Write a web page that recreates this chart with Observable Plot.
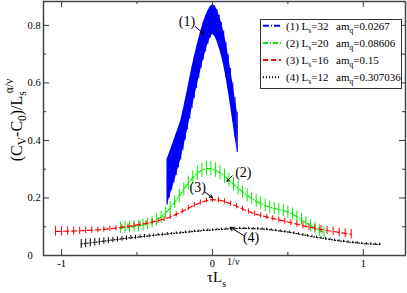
<!DOCTYPE html>
<html>
<head>
<meta charset="utf-8">
<script src="https://cdn.jsdelivr.net/npm/d3@7"></script>
<script src="https://cdn.jsdelivr.net/npm/@observablehq/plot@0.6"></script>
<style>
  html, body { margin: 0; padding: 0; background: #fff; }
  svg { display: block; }
  svg text { font-family: "Liberation Serif", "Times New Roman", Times, "DejaVu Serif", serif; }
</style>
</head>
<body>
<div id="chart"></div>
<script>
// ---- Data ----
const blueX = [-0.300,-0.285,-0.270,-0.255,-0.240,-0.225,-0.210,-0.195,-0.180,-0.165,-0.150,-0.135,-0.120,-0.105,-0.090,-0.075,-0.060,-0.045,-0.030,-0.015,0.000,0.015,0.030,0.045,0.060,0.075,0.090,0.105,0.120,0.135,0.150,0.165];
const blueY = [0.255,0.278,0.302,0.326,0.350,0.375,0.400,0.434,0.470,0.507,0.545,0.583,0.618,0.652,0.685,0.716,0.745,0.770,0.792,0.810,0.820,0.815,0.800,0.778,0.752,0.720,0.680,0.635,0.585,0.533,0.480,0.428];
const blueE = [0.080,0.078,0.076,0.074,0.072,0.070,0.068,0.068,0.069,0.070,0.071,0.072,0.072,0.071,0.069,0.067,0.065,0.062,0.058,0.055,0.052,0.053,0.055,0.057,0.058,0.060,0.061,0.063,0.065,0.067,0.069,0.070];

const greenX = [-0.61,-0.58,-0.55,-0.52,-0.49,-0.46,-0.43,-0.40,-0.37,-0.34,-0.31,-0.28,-0.25,-0.22,-0.19,-0.16,-0.13,-0.10,-0.07,-0.04,-0.01,0.02,0.05,0.08,0.11,0.14,0.17,0.20,0.23,0.26,0.29,0.32,0.35,0.38,0.41,0.44,0.47,0.50,0.53,0.56,0.59,0.62,0.65,0.68,0.71,0.74];
const greenY = [0.097,0.098,0.099,0.101,0.103,0.106,0.110,0.116,0.124,0.134,0.148,0.165,0.185,0.207,0.230,0.252,0.271,0.286,0.297,0.302,0.302,0.297,0.288,0.276,0.262,0.248,0.234,0.221,0.209,0.198,0.189,0.181,0.174,0.168,0.164,0.160,0.156,0.151,0.144,0.135,0.125,0.114,0.104,0.095,0.087,0.080];
const greenE = [0.020,0.020,0.020,0.020,0.020,0.020,0.020,0.020,0.021,0.021,0.021,0.022,0.022,0.023,0.023,0.024,0.024,0.025,0.025,0.025,0.025,0.025,0.025,0.024,0.024,0.024,0.023,0.023,0.023,0.022,0.022,0.022,0.022,0.021,0.021,0.021,0.021,0.021,0.021,0.020,0.020,0.020,0.020,0.020,0.020,0.020];

const redX = [-1.04,-1.00,-0.96,-0.92,-0.88,-0.84,-0.80,-0.76,-0.72,-0.68,-0.64,-0.60,-0.56,-0.52,-0.48,-0.44,-0.40,-0.36,-0.32,-0.28,-0.24,-0.20,-0.16,-0.12,-0.08,-0.04,0.00,0.04,0.08,0.12,0.16,0.20,0.24,0.28,0.32,0.36,0.40,0.44,0.48,0.52,0.56,0.60,0.64,0.68,0.72,0.76,0.80,0.84,0.88,0.92];
const redY = [0.084,0.084,0.085,0.085,0.086,0.087,0.088,0.089,0.091,0.093,0.095,0.098,0.101,0.104,0.108,0.112,0.116,0.121,0.127,0.134,0.143,0.153,0.164,0.175,0.184,0.191,0.194,0.193,0.188,0.180,0.171,0.162,0.153,0.145,0.139,0.134,0.129,0.124,0.119,0.114,0.109,0.104,0.099,0.095,0.091,0.087,0.084,0.080,0.077,0.074];
const redE = [0.017,0.016,0.015,0.014,0.013,0.012,0.011,0.010,0.010,0.009,0.009,0.009,0.009,0.009,0.009,0.009,0.009,0.009,0.009,0.009,0.009,0.009,0.009,0.009,0.009,0.009,0.009,0.009,0.009,0.009,0.009,0.009,0.009,0.009,0.009,0.009,0.009,0.010,0.010,0.010,0.011,0.011,0.012,0.012,0.013,0.014,0.015,0.015,0.016,0.017];

const blackX = [-0.87,-0.84,-0.81,-0.78,-0.75,-0.72,-0.69,-0.66,-0.63,-0.60,-0.57,-0.54,-0.51,-0.48,-0.45,-0.42,-0.39,-0.36,-0.33,-0.30,-0.27,-0.24,-0.21,-0.18,-0.15,-0.12,-0.09,-0.06,-0.03,0.00,0.03,0.06,0.09,0.12,0.15,0.18,0.21,0.24,0.27,0.30,0.33,0.36,0.39,0.42,0.45,0.48,0.51,0.54,0.57,0.60,0.63,0.66,0.69,0.72,0.75,0.78,0.81,0.84,0.87,0.90,0.93,0.96,0.99,1.02,1.05,1.08,1.11];
const blackY = [0.040,0.042,0.044,0.046,0.048,0.050,0.052,0.054,0.056,0.058,0.060,0.062,0.063,0.065,0.067,0.068,0.070,0.072,0.073,0.075,0.076,0.078,0.079,0.081,0.082,0.084,0.085,0.087,0.088,0.089,0.090,0.091,0.092,0.093,0.093,0.094,0.094,0.094,0.093,0.093,0.092,0.091,0.089,0.087,0.085,0.083,0.081,0.078,0.075,0.072,0.069,0.066,0.063,0.061,0.058,0.056,0.053,0.051,0.049,0.047,0.045,0.044,0.042,0.041,0.040,0.039,0.039];
const blackE = [0.016,0.015,0.014,0.013,0.012,0.011,0.010,0.009,0.009,0.008,0.008,0.007,0.007,0.006,0.006,0.006,0.005,0.005,0.005,0.005,0.004,0.004,0.004,0.004,0.004,0.004,0.004,0.004,0.004,0.004,0.004,0.004,0.004,0.004,0.004,0.004,0.004,0.004,0.004,0.004,0.004,0.004,0.004,0.004,0.004,0.004,0.004,0.004,0.004,0.004,0.004,0.004,0.004,0.004,0.004,0.004,0.004,0.004,0.004,0.004,0.004,0.004,0.004,0.004,0.004,0.004,0.004];

const xMajor = [-1, 0, 1];
const xMinor = [-0.5, 0.5];
const yMajor = [0, 0.2, 0.4, 0.6, 0.8];
const yMinor = [0.1, 0.3, 0.5, 0.7];

const legendLabels = ["(1)", "(2)", "(3)", "(4)"];
const legendL = ["32", "20", "16", "12"];
const legendAm = ["0.0267", "0.08606", "0.15", "0.307036"];

const annotations = [
  {label: "(1)", x: -0.169, y: 0.813, ax1: -0.113, ay1: 0.796, ax2: -0.058, ay2: 0.770},
  {label: "(2)", x: 0.205, y: 0.287, ax1: 0.131, ay1: 0.277, ax2: 0.096, ay2: 0.258},
  {label: "(3)", x: -0.098, y: 0.236, ax1: -0.048, ay1: 0.220, ax2: -0.002, ay2: 0.202},
  {label: "(4)", x: 0.256, y: 0.061, ax1: 0.206, ay1: 0.070, ax2: 0.117, ay2: 0.098}
];

const colors = ["#0000ff", "#00ee00", "#ff0000", "#000000"];
const dashes = ["6,2,1,2", "5,2,1,2", "5,3", "1,2"];

// ---- Build tables ----
const mk = (X, Y, E) => X.map((x, i) => ({x, y: Y[i], lo: Y[i] - E[i], hi: Y[i] + E[i]}));
const blue = mk(blueX, blueY, blueE);
const green = mk(greenX, greenY, greenE);
const red = mk(redX, redY, redE);
const black = mk(blackX, blackY, blackE);

const W = 407, H = 293;
const mT = 1, mB = 38, mL = 43, mR = 2;
const fh = H - mT - mB;
const fw = W - mL - mR;
const serif = "'Liberation Serif', 'Times New Roman', Times, 'DejaVu Serif', serif";

const series = [blue, green, red, black];
const seriesMarks = [];
series.forEach((s, i) => {
  if (i === 0) seriesMarks.push(Plot.areaY(s, {x: "x", y1: "lo", y2: "hi", fill: colors[0]}));
  seriesMarks.push(Plot.ruleX(s, {x: "x", y1: "lo", y2: "hi", stroke: colors[i], strokeWidth: 1}));
  seriesMarks.push(Plot.line(s, {x: "x", y: "y", stroke: colors[i], strokeWidth: 1.2, strokeDasharray: dashes[i]}));
});

const chart = Plot.plot({
  width: W, height: H,
  marginTop: mT, marginBottom: mB, marginLeft: mL, marginRight: mR,
  style: {fontFamily: serif, fontSize: "10.5px", background: "#fff", color: "#000"},
  x: {domain: [-1.12, 1.28]},
  y: {domain: [0, 0.883]},
  marks: [
    ...seriesMarks,
    Plot.text(annotations, {x: "x", y: "y", text: "label", fontSize: 14, fill: "#000"}),
    Plot.arrow(annotations, {x1: "ax1", y1: "ay1", x2: "ax2", y2: "ay2", stroke: "#000", strokeWidth: 1, headLength: 6}),
    Plot.tickX(xMajor, {x: d => d, insetTop: fh - 6, stroke: "#333"}),
    Plot.tickX(xMajor, {x: d => d, insetBottom: fh - 6, stroke: "#333"}),
    Plot.tickX(xMinor, {x: d => d, insetTop: fh - 3, stroke: "#333"}),
    Plot.tickX(xMinor, {x: d => d, insetBottom: fh - 3, stroke: "#333"}),
    Plot.tickY(yMajor, {y: d => d, insetRight: fw - 6, stroke: "#333"}),
    Plot.tickY(yMajor, {y: d => d, insetLeft: fw - 6, stroke: "#333"}),
    Plot.tickY(yMinor, {y: d => d, insetRight: fw - 3, stroke: "#333"}),
    Plot.tickY(yMinor, {y: d => d, insetLeft: fw - 3, stroke: "#333"}),
    Plot.axisX({ticks: xMajor, tickSize: 0, tickPadding: 4, tickFormat: d => String(d), fontSize: 10.5}),
    Plot.axisY({ticks: yMajor, tickSize: 0, tickPadding: 16, textAnchor: "start", tickFormat: d => String(d), fontSize: 10.5}),
    Plot.frame({stroke: "#444", strokeWidth: 1.5})
  ]
});

document.getElementById("chart").appendChild(chart);

// ---- Axis titles and legend (real SVG text) ----
const svg = d3.select(chart);

// Y label
const yl = svg.append("text")
  .attr("transform", "translate(22,120) rotate(-90)")
  .attr("text-anchor", "middle")
  .attr("font-family", serif).attr("font-size", 16).attr("fill", "#000");
yl.append("tspan").text("(C");
yl.append("tspan").attr("dy", 4).attr("font-size", 11.5).text("V");
yl.append("tspan").attr("dy", -4).text("-C");
yl.append("tspan").attr("dy", 4).attr("font-size", 11.5).text("0");
yl.append("tspan").attr("dy", -4).text(")/L");
yl.append("tspan").attr("dy", 4).attr("font-size", 11.5).text("s");
yl.append("tspan").attr("dy", -13).attr("dx", -2).attr("font-size", 11.5).text("α/ν");

// X label
const xl = svg.append("text")
  .attr("x", 207).attr("y", 282).attr("text-anchor", "start")
  .attr("font-family", serif).attr("font-size", 15).attr("fill", "#000");
xl.append("tspan").text("τL");
xl.append("tspan").attr("dy", 5).attr("font-size", 10).text("s");
xl.append("tspan").attr("dy", -22).attr("dx", 1).attr("font-size", 10).text("1/ν");

// Legend
const lg = svg.append("g").attr("text-anchor", "start");
lg.append("rect").attr("x", 260.5).attr("y", 19.5).attr("width", 141).attr("height", 69)
  .attr("fill", "#fff").attr("stroke", "#333").attr("stroke-width", 1);
const rowY = [25.7, 42.9, 60.1, 77.3];
legendLabels.forEach((lab, i) => {
  lg.append("line").attr("x1", 263).attr("x2", 281).attr("y1", rowY[i]).attr("y2", rowY[i])
    .attr("stroke", colors[i]).attr("stroke-width", 2).attr("stroke-dasharray", dashes[i]);
  const t = lg.append("text").attr("x", 286).attr("y", rowY[i] + 4).attr("text-anchor", "start")
    .attr("font-family", serif).attr("font-size", 11).attr("fill", "#000");
  t.append("tspan").text(lab + " L");
  t.append("tspan").attr("dy", 3).attr("font-size", 7.5).text("s");
  t.append("tspan").attr("dy", -3).text("=" + legendL[i]);
  const t2 = lg.append("text").attr("x", 336).attr("y", rowY[i] + 4).attr("text-anchor", "start")
    .attr("font-family", serif).attr("font-size", 11).attr("fill", "#000");
  t2.append("tspan").text("am");
  t2.append("tspan").attr("dy", 3).attr("font-size", 7.5).text("q");
  t2.append("tspan").attr("dy", -3).text("=" + legendAm[i]);
});
</script>
</body>
</html>
